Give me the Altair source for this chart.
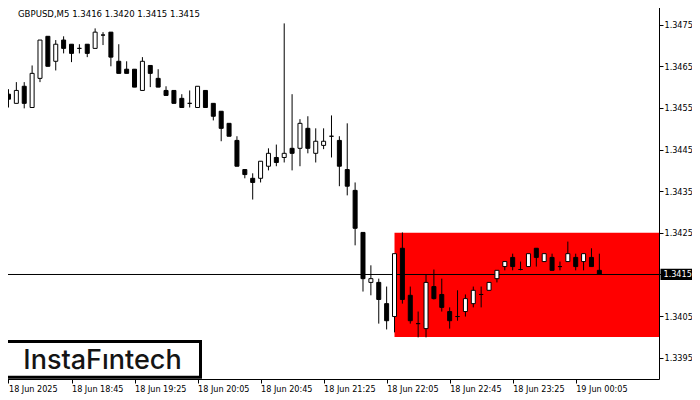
import json
import altair as alt
import pandas as pd

symbol = "GBPUSD,M5"
time_labels = ["18 Jun 2025", "18 Jun 18:45", "18 Jun 19:25", "18 Jun 20:05", "18 Jun 20:45",
               "18 Jun 21:25", "18 Jun 22:05", "18 Jun 22:45", "18 Jun 23:25", "19 Jun 00:05"]
tick_index = [0, 8, 16, 24, 32, 40, 48, 56, 64, 72]
price_ticks = [1.3395, 1.3405, 1.3415, 1.3425, 1.3435, 1.3445, 1.3455, 1.3465, 1.3475]

opens = [1.34583, 1.34561, 1.34602, 1.34551, 1.34621, 1.34722, 1.34662, 1.34713, 1.34703, 1.34693,
         1.34703, 1.34693, 1.34725, 1.34732, 1.34662, 1.34643, 1.34643, 1.34592, 1.34652, 1.34621,
         1.34592, 1.34592, 1.34573, 1.34561, 1.34551, 1.34592, 1.34561, 1.34542, 1.34513, 1.34472,
         1.34402, 1.34381, 1.34381, 1.34410, 1.34431, 1.34431, 1.34453, 1.34453, 1.34501, 1.34441,
         1.34460, 1.34482, 1.34472, 1.34402, 1.34352, 1.34251, 1.34131, 1.34131, 1.34080, 1.34049,
         1.34213, 1.34100, 1.34032, 1.34020, 1.34121, 1.34102, 1.34061, 1.34049, 1.34061, 1.34080,
         1.34102, 1.34112, 1.34140, 1.34169, 1.34191, 1.34162, 1.34169, 1.34213, 1.34181, 1.34191,
         1.34169, 1.34181, 1.34191, 1.34181, 1.34191, 1.34160]
highs = [1.34595, 1.34612, 1.34612, 1.34652, 1.34713, 1.34722, 1.34713, 1.34722, 1.34703, 1.34703,
         1.34703, 1.34741, 1.34732, 1.34732, 1.34703, 1.34662, 1.34643, 1.34672, 1.34652, 1.34643,
         1.34602, 1.34592, 1.34583, 1.34592, 1.34602, 1.34592, 1.34561, 1.34542, 1.34513, 1.34482,
         1.34402, 1.34393, 1.34422, 1.34453, 1.34462, 1.34753, 1.34583, 1.34523, 1.34530, 1.34501,
         1.34501, 1.34532, 1.34482, 1.34513, 1.34371, 1.34251, 1.34172, 1.34140, 1.34121, 1.34200,
         1.34251, 1.34121, 1.34061, 1.34150, 1.34162, 1.34140, 1.34071, 1.34112, 1.34102, 1.34121,
         1.34121, 1.34131, 1.34160, 1.34181, 1.34200, 1.34181, 1.34200, 1.34213, 1.34200, 1.34200,
         1.34181, 1.34229, 1.34200, 1.34200, 1.34213, 1.34200]
lows = [1.34551, 1.34561, 1.34549, 1.34551, 1.34612, 1.34650, 1.34640, 1.34681, 1.34660, 1.34681,
        1.34672, 1.34693, 1.34701, 1.34650, 1.34633, 1.34633, 1.34600, 1.34592, 1.34600, 1.34600,
        1.34580, 1.34561, 1.34551, 1.34551, 1.34551, 1.34551, 1.34520, 1.34470, 1.34482, 1.34410,
        1.34381, 1.34330, 1.34371, 1.34400, 1.34410, 1.34419, 1.34400, 1.34410, 1.34441, 1.34419,
        1.34451, 1.34431, 1.34362, 1.34340, 1.34220, 1.34109, 1.34100, 1.34032, 1.34018, 1.34011,
        1.34080, 1.34032, 1.33999, 1.33999, 1.34090, 1.34061, 1.34020, 1.34039, 1.34049, 1.34071,
        1.34071, 1.34112, 1.34131, 1.34160, 1.34160, 1.34160, 1.34169, 1.34169, 1.34181, 1.34160,
        1.34160, 1.34181, 1.34160, 1.34160, 1.34169, 1.34150]
closes = [1.34571, 1.34592, 1.34561, 1.34633, 1.34713, 1.34650, 1.34703, 1.34693, 1.34681, 1.34693,
          1.34681, 1.34732, 1.34725, 1.34672, 1.34633, 1.34633, 1.34600, 1.34662, 1.34633, 1.34600,
          1.34580, 1.34561, 1.34551, 1.34561, 1.34602, 1.34551, 1.34530, 1.34501, 1.34482, 1.34410,
          1.34390, 1.34371, 1.34422, 1.34441, 1.34419, 1.34441, 1.34441, 1.34513, 1.34453, 1.34470,
          1.34470, 1.34482, 1.34410, 1.34362, 1.34261, 1.34140, 1.34140, 1.34090, 1.34039, 1.34200,
          1.34090, 1.34039, 1.34032, 1.34131, 1.34092, 1.34071, 1.34039, 1.34049, 1.34092, 1.34112,
          1.34102, 1.34131, 1.34160, 1.34181, 1.34169, 1.34162, 1.34200, 1.34191, 1.34200, 1.34160,
          1.34169, 1.34200, 1.34169, 1.34200, 1.34169, 1.34150]

zone_start = [49]
zone_top = [1.3425]
zone_bottom = [1.3400]

header_vals = [1.3416, 1.3420, 1.3415, 1.3415]
bid_price = [1.3415]
brand = "InstaF\u0131ntech"

W, H = 657, 376
FONT = "DejaVu Sans Condensed, DejaVu Sans, sans-serif"

candles = pd.DataFrame({"i": list(range(len(opens))), "open": opens, "high": highs,
                        "low": lows, "close": closes})
xs = alt.Scale(domain=[-0.1875, 81.9375], nice=False, zero=False)
ys = alt.Scale(domain=[1.33899, 1.34802], nice=False, zero=False)

x_axis = alt.Axis(values=tick_index, labelExpr=f"{json.dumps(time_labels)}[round(datum.value/8)]",
                  orient="bottom", labelAlign="left", labelBaseline="top", labelPadding=1,
                  tickSize=4, labelOverlap=False, labelFlush=False, grid=False, domain=False,
                  title=None)
y_axis = alt.Axis(values=price_ticks, format=".4f", orient="right", tickSize=4,
                  labelPadding=1, labelBaseline="middle", grid=False, domain=False, title=None,
                  labelOverlap=False, labelFlush=False)

zone = alt.Chart(pd.DataFrame({"x": zone_start, "top": zone_top, "bottom": zone_bottom})).mark_rect(
    color="#ff0000").encode(
    x=alt.X("x:Q", scale=xs, axis=x_axis), x2=alt.value(W),
    y=alt.Y("top:Q", scale=ys, axis=y_axis), y2="bottom:Q")

bid = pd.DataFrame({"p": bid_price, "lo": [bid_price[0] - 0.000135], "hi": [bid_price[0] + 0.000135],
                    "t": [f"{bid_price[0]:.4f}"]})
bidline = alt.Chart(bid).mark_rule(color="black", strokeWidth=1).encode(
    y=alt.Y("p:Q", scale=ys, axis=y_axis), x=alt.value(0), x2=alt.value(W + 2))

wicks = alt.Chart(candles).mark_rule(color="black", strokeWidth=1, clip=True).encode(
    x=alt.X("i:Q", scale=xs, axis=x_axis),
    y=alt.Y("low:Q", scale=ys, axis=y_axis),
    y2="high:Q")

bodies = alt.Chart(candles).mark_bar(width=4, stroke="black", strokeWidth=1, clip=True).encode(
    x=alt.X("i:Q", scale=xs, axis=x_axis),
    y=alt.Y("open:Q", scale=ys, axis=y_axis),
    y2="close:Q",
    fill=alt.condition(alt.datum.close >= alt.datum.open, alt.value("white"), alt.value("black")))

price_box = alt.Chart(bid).mark_rect(color="black").encode(
    x=alt.value(W + 1.5), x2=alt.value(W + 40), y=alt.Y("lo:Q", scale=ys, axis=y_axis), y2="hi:Q")
price_txt = alt.Chart(bid).mark_text(color="white", align="left", baseline="middle",
                                     font=FONT, fontSize=9).encode(
    x=alt.value(W + 4.5), y=alt.Y("p:Q", scale=ys, axis=y_axis), text="t:N")

header = alt.Chart(pd.DataFrame({"t": [symbol + "  " + " ".join(f"{v:.4f}" for v in header_vals)]})).mark_text(
    align="left", baseline="alphabetic", font=FONT, fontSize=9.5, color="black").encode(
    x=alt.value(16), y=alt.value(13.5), text="t:N")

logo_df = pd.DataFrame({"t": [brand]})
logo_box = alt.Chart(logo_df).mark_rect(fill="white", stroke="black", strokeWidth=3).encode(
    x=alt.value(2.2), x2=alt.value(198.5), y=alt.value(338.5), y2=alt.value(374.2))
logo_txt = alt.Chart(logo_df).mark_text(font="Inter", fontSize=27, fontWeight=500, color="#141414",
                                        align="center", baseline="alphabetic").encode(
    x=alt.value(100.5), y=alt.value(366), text="t:N")

chart = alt.layer(zone, bidline, wicks, bodies, price_box, price_txt, header, logo_box, logo_txt).properties(
    width=W, height=H,
    autosize=alt.AutoSizeParams(type="none"),
    padding={"left": -6, "top": -5, "right": 33, "bottom": 17},
    background="white",
).configure_view(stroke="black", strokeWidth=1).configure_axis(
    labelFont=FONT, labelFontSize=9, labelColor="black", tickColor="black", tickWidth=1)

chart.save("out.html", embed_options={"renderer": "svg", "actions": False})
